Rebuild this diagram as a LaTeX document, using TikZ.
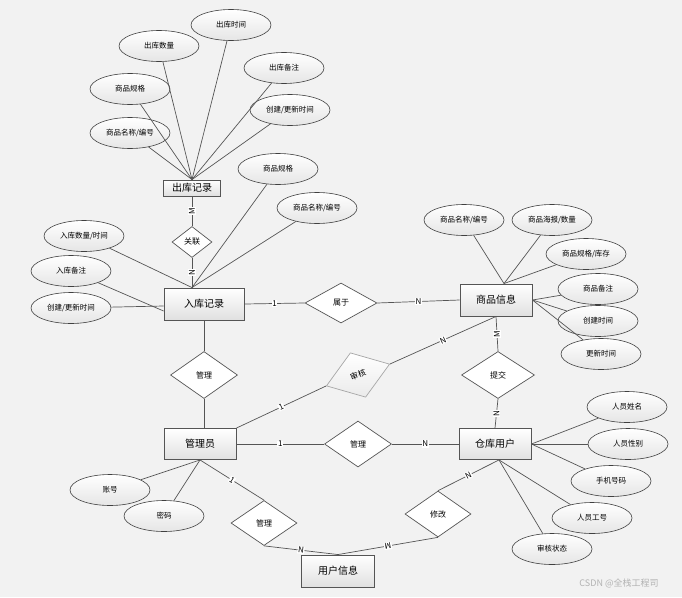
\documentclass[tikz,border=0pt]{standalone}
\usepackage{fontspec}
\setmainfont{Noto Sans CJK SC}
\usetikzlibrary{shapes}
\definecolor{bgcol}{HTML}{F2F2F2}
\definecolor{linecol}{HTML}{555555}
\tikzset{
	every edge/.style={line width=0.7pt,draw=linecol},
	entity/.style={shape=rectangle,draw=linecol,line width=0.9pt,top color=white,bottom color=black!12,minimum width=72pt,minimum height=31pt,inner sep=0pt,font=\fontsize{10}{10}\selectfont},
	attr/.style={shape=ellipse,draw=black!75,line width=0.6pt,top color=white,bottom color=black!10,minimum width=80pt,minimum height=31pt,inner sep=0pt,font=\fontsize{7.5}{8}\selectfont},
	rel/.style={shape=diamond,draw=linecol,line width=0.7pt,fill=white,minimum width=67pt,minimum height=47pt,inner sep=0pt,font=\fontsize{8}{8}\selectfont},
	card/.style={fill=white,inner sep=0.6pt,font=\fontsize{8}{8}\selectfont},
}

\begin{document}
\begin{tikzpicture}[x=1pt,y=-1pt]
	\fill[bgcol] (0,0) rectangle (682,597);
	\useasboundingbox (0,0) rectangle (682,597);

	% entities
	\node[entity,minimum width=57pt,minimum height=16pt] (out) at (192,188) {出库记录};
	\node[entity,minimum width=80pt,minimum height=32pt] (in) at (204,304) {入库记录};
	\node[entity,minimum height=32pt] (goods) at (496,300) {商品信息};
	\node[entity] (admin) at (200,444) {管理员};
	\node[entity] (user) at (495,444) {仓库用户};
	\node[entity,minimum width=73pt,minimum height=32pt] (info) at (338,571) {用户信息};

	% relations
	\node[rel,minimum width=40pt,minimum height=31pt] (link) at (192,242) {关联};
	\node[rel,minimum width=72pt,minimum height=40pt] (belong) at (341,303) {属于};
	\node[rel] (manage1) at (204,375) {管理};
	\node[rel,draw=black!35,top color=white,bottom color=black!8,rotate=19] (audit) at (358,375) {审核};
	\node[rel,minimum width=73pt] (submit) at (498,375) {提交};
	\node[rel,minimum height=46pt] (manage2) at (358,444) {管理};
	\node[rel,minimum width=66pt,minimum height=45pt] (manage3) at (264,523) {管理};
	\node[rel,minimum width=66pt,minimum height=46pt] (modify) at (438,514) {修改};

	% attributes of 出库记录
	\node[attr] (o-time) at (231,25) {出库时间};
	\node[attr] (o-num) at (159,46) {出库数量};
	\node[attr] (o-note) at (284,68) {出库备注};
	\node[attr] (o-spec) at (130,89) {商品规格};
	\node[attr] (o-upd) at (290,110) {创建/更新时间};
	\node[attr] (o-name) at (130,133) {商品名称/编号};

	% attributes of 入库记录
	\node[attr] (i-num) at (84,236) {入库数量/时间};
	\node[attr] (i-note) at (71,271) {入库备注};
	\node[attr] (i-upd) at (71,308) {创建/更新时间};
	\node[attr] (i-spec) at (278,169) {商品规格};
	\node[attr] (i-name) at (317,208) {商品名称/编号};

	% attributes of 商品信息
	\node[attr] (g-name) at (464,220) {商品名称/编号};
	\node[attr] (g-pic) at (552,220) {商品海报/数量};
	\node[attr] (g-stock) at (586,254) {商品规格/库存};
	\node[attr] (g-note) at (598,289) {商品备注};
	\node[attr] (g-new) at (598,321) {创建时间};
	\node[attr] (g-upd) at (601,354) {更新时间};

	% attributes of 仓库用户
	\node[attr] (u-name) at (627,407) {人员姓名};
	\node[attr] (u-sex) at (628,444) {人员性别};
	\node[attr] (u-tel) at (611,481) {手机号码};
	\node[attr] (u-no) at (592,518) {人员工号};
	\node[attr] (u-state) at (552,549) {审核状态};

	% attributes of 管理员
	\node[attr] (a-acc) at (110,490) {账号};
	\node[attr] (a-pwd) at (164,516) {密码};

	\path [-] (o-time) edge (out.north);
	\path [-] (o-num) edge (out.north);
	\path [-] (o-note) edge (out.north);
	\path [-] (o-spec) edge (out.north);
	\path [-] (o-upd) edge (out.north);
	\path [-] (o-name) edge (out.north);

	\path [-] (i-num) edge (in.north -| link);
	\path [-] (i-spec) edge (in.north -| link);
	\path [-] (i-name) edge (in.north -| link);
	\path [-] (i-note) edge ([yshift=-7pt]in.west);
	\path [-] (i-upd) edge ([yshift=-2pt]in.west);

	\path [-] (g-name) edge ([xshift=8pt]goods.north);
	\path [-] (g-pic) edge ([xshift=8pt]goods.north);
	\path [-] (g-stock) edge ([xshift=8pt]goods.north);
	\path [-] (g-note) edge (goods.east);
	\path [-] (g-new) edge (goods.east);
	\path [-] (g-upd) edge (goods.east);

	\path [-] (u-name) edge (user.east);
	\path [-] (u-sex) edge (user.east);
	\path [-] (u-tel) edge (user.east);
	\path [-] (u-no) edge ([xshift=4pt]user.south);
	\path [-] (u-state) edge ([xshift=4pt]user.south);

	\path [-] (a-acc) edge (admin.south);
	\path [-] (a-pwd) edge (admin.south);

	% relationship lines
	\path [-] (out.south) edge node[card,rotate=90] {M} (link.north);
	\path [-] (link.south) edge node[card,rotate=90] {N} (in.north -| link);
	\path [-] (in.east) edge node[card] {1} (belong.west);
	\path [-] (belong.east) edge node[card] {N} (goods.west);
	\path [-] (in.south) edge (manage1.north);
	\path [-] (manage1.south) edge (admin.north -| manage1);
	\path [-] (admin.north east) edge node[card,sloped] {1} (audit.west);
	\path [-] (audit.east) edge node[card,sloped] {N} (goods.south);
	\path [-] (goods.south) edge node[card,rotate=90] {M} (submit.north);
	\path [-] (submit.south) edge node[card,rotate=90] {N} (user.north);
	\path [-] (admin.east) edge node[card] {1} (manage2.west);
	\path [-] (manage2.east) edge node[card] {N} (user.west);
	\path [-] (admin.south) edge node[card,sloped] {1} (manage3.north);
	\path [-] (manage3.south) edge node[card,sloped] {N} (info.north);
	\path [-] (modify.south) edge node[card,sloped,allow upside down] {M} (info.north);
	\path [-] (modify.north) edge node[card,sloped] {N} ([xshift=4pt]user.south);

	\node[text=black!30,font=\fontsize{9}{9}\selectfont] (mark) at (619,583) {CSDN @全栈工程司};
\end{tikzpicture}
\end{document}
